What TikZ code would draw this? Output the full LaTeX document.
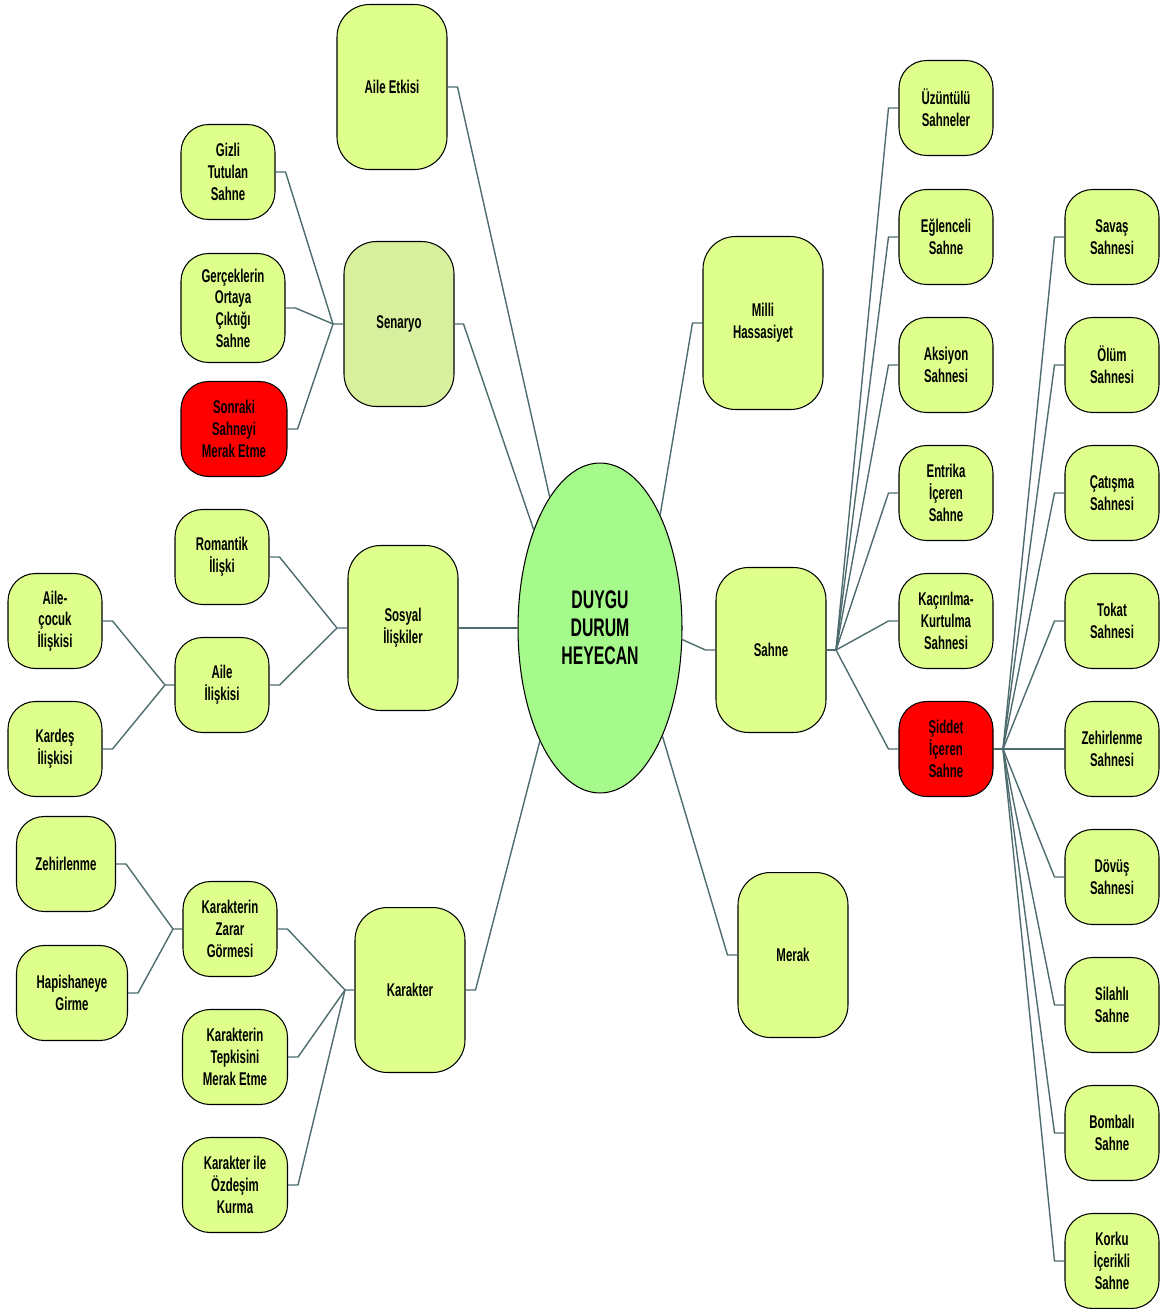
\documentclass[tikz,border=0pt]{standalone}
\usepackage{fontspec}
\setmainfont[FakeStretch=0.62]{Liberation Sans}
\usetikzlibrary{shapes.geometric}
\definecolor{kutu}{RGB}{222,255,140}
\definecolor{senkutu}{RGB}{216,240,158}
\definecolor{merkezrenk}{RGB}{166,250,140}
\definecolor{cizgi}{RGB}{78,108,110}
\begin{document}
\begin{tikzpicture}[x=0.02cm,y=-0.02cm,
    yaprak/.style={draw=black,line width=0.6pt,fill=kutu,rounded corners=0.55cm,
      minimum width=1.88cm,minimum height=1.9cm,align=center,inner sep=1pt,
      font=\bfseries\fontsize{10.5}{12.3}\selectfont},
    dal/.style={yaprak,rounded corners=0.65cm,minimum width=2.2cm,minimum height=3.3cm},
    kirmizi/.style={fill=red},
    bag/.style={draw=cizgi,line width=0.8pt}]
  \useasboundingbox (0,0) rectangle (1165,1309);
  % merkez
  \node[ellipse,draw=black,line width=0.6pt,fill=merkezrenk,minimum width=3.28cm,
    minimum height=6.6cm,align=center,font=\bfseries\fontsize{14.5}{16}\selectfont]
    (merkez) at (600,628) {DUYGU\\DURUM\\HEYECAN};
  % sol taraf
  \node[dal] (etki) at (392,87) {Aile Etkisi};
  \node[dal,fill=senkutu] (sen) at (399,324) {Senaryo};
  \node[yaprak] (gizli) at (228,172) {Gizli\\Tutulan\\Sahne};
  \node[yaprak,minimum width=2.08cm,minimum height=2.18cm] (gercek) at (233,308) {Gerçeklerin\\Ortaya\\Çıktığı\\Sahne};
  \node[yaprak,kirmizi,minimum width=2.12cm] (sonraki) at (234,429) {Sonraki\\Sahneyi\\Merak Etme};
  \node[dal] (sosyal) at (403,628) {Sosyal\\İlişkiler};
  \node[yaprak] (romantik) at (222,557) {Romantik\\İlişki};
  \node[yaprak] (aile) at (222,685) {Aile\\İlişkisi};
  \node[yaprak] (cocuk) at (55,621) {Aile-\\çocuk\\İlişkisi};
  \node[yaprak] (kardes) at (55,749) {Kardeş\\İlişkisi};
  \node[dal] (karakter) at (410,990) {Karakter};
  \node[yaprak] (zarar) at (230,929) {Karakterin\\Zarar\\Görmesi};
  \node[yaprak,minimum width=2.1cm] (tepki) at (235,1057) {Karakterin\\Tepkisini\\Merak Etme};
  \node[yaprak,minimum width=2.1cm] (ozdes) at (235,1185) {Karakter ile\\Özdeşim\\Kurma};
  \node[yaprak,minimum width=1.98cm] (zehir) at (66,864) {Zehirlenme};
  \node[yaprak,minimum width=2.22cm] (hapis) at (72,993) {Hapishaneye\\Girme};
  % sag taraf
  \node[dal,minimum width=2.4cm,minimum height=3.46cm] (milli) at (763,323) {Milli\\Hassasiyet};
  \node[dal] (sahne) at (771,650) {Sahne};
  \node[dal] (merak) at (793,955) {Merak};
  \node[yaprak] (uzuntu) at (946,108) {Üzüntülü\\Sahneler};
  \node[yaprak] (eglence) at (946,237) {Eğlenceli\\Sahne};
  \node[yaprak] (aksiyon) at (946,365) {Aksiyon\\Sahnesi};
  \node[yaprak] (entrika) at (946,493) {Entrika\\İçeren\\Sahne};
  \node[yaprak] (kacirma) at (946,621) {Kaçırılma-\\Kurtulma\\Sahnesi};
  \node[yaprak,kirmizi] (siddet) at (946,749) {Şiddet\\İçeren\\Sahne};
  \node[yaprak] (savas) at (1112,237) {Savaş\\Sahnesi};
  \node[yaprak] (olum) at (1112,365) {Ölüm\\Sahnesi};
  \node[yaprak] (catisma) at (1112,493) {Çatışma\\Sahnesi};
  \node[yaprak] (tokat) at (1112,621) {Tokat\\Sahnesi};
  \node[yaprak] (zehirs) at (1112,749) {Zehirlenme\\Sahnesi};
  \node[yaprak] (dovus) at (1112,877) {Dövüş\\Sahnesi};
  \node[yaprak] (silah) at (1112,1005) {Silahlı\\Sahne};
  \node[yaprak] (bomba) at (1112,1133) {Bombalı\\Sahne};
  \node[yaprak] (korku) at (1112,1261) {Korku\\İçerikli\\Sahne};
  % dugum noktalari
  \coordinate (jsen) at (333,324);
  \coordinate (jsosyal) at (337,628);
  \coordinate (jaile) at (165,685);
  \coordinate (jkarakter) at (345,990);
  \coordinate (jzarar) at (173,929);
  \coordinate (jsahne) at (836,650);
  \coordinate (jsiddet) at (1003,749);
  % merkeze baglar
  \draw[bag] (etki.east) -- ++(10,0) -- (merkez.111);
  \draw[bag] (sen.east) -- ++(9,0) -- (merkez.124);
  \draw[bag] (sosyal.east) -- (merkez.180);
  \draw[bag] (karakter.east) -- ++(10,0) -- (merkez.242);
  \draw[bag] (milli.west) -- ++(-10,0) -- (merkez.62);
  \draw[bag] (sahne.west) -- ++(-10,0) -- (merkez.352);
  \draw[bag] (merak.west) -- ++(-10,0) -- (merkez.300);
  % senaryo
  \draw[bag] (gizli.east) -- ++(10,0) -- (jsen) -- (sen.west);
  \draw[bag] (gercek.east) -- ++(10,0) -- (jsen);
  \draw[bag] (sonraki.east) -- ++(10,0) -- (jsen);
  % sosyal iliskiler
  \draw[bag] (romantik.east) -- ++(10,0) -- (jsosyal) -- (sosyal.west);
  \draw[bag] (aile.east) -- ++(10,0) -- (jsosyal);
  \draw[bag] (cocuk.east) -- ++(10,0) -- (jaile) -- (aile.west);
  \draw[bag] (kardes.east) -- ++(10,0) -- (jaile);
  % karakter
  \draw[bag] (zarar.east) -- ++(10,0) -- (jkarakter) -- (karakter.west);
  \draw[bag] (tepki.east) -- ++(10,0) -- (jkarakter);
  \draw[bag] (ozdes.east) -- ++(10,0) -- (jkarakter);
  \draw[bag] (zehir.east) -- ++(10,0) -- (jzarar) -- (zarar.west);
  \draw[bag] (hapis.east) -- ++(10,0) -- (jzarar);
  % sahne
  \draw[bag] (sahne.east) -- (jsahne);
  \draw[bag] (jsahne) -- ([xshift=-0.2cm]uzuntu.west) -- (uzuntu.west);
  \draw[bag] (jsahne) -- ([xshift=-0.2cm]eglence.west) -- (eglence.west);
  \draw[bag] (jsahne) -- ([xshift=-0.2cm]aksiyon.west) -- (aksiyon.west);
  \draw[bag] (jsahne) -- ([xshift=-0.2cm]entrika.west) -- (entrika.west);
  \draw[bag] (jsahne) -- ([xshift=-0.2cm]kacirma.west) -- (kacirma.west);
  \draw[bag] (jsahne) -- ([xshift=-0.2cm]siddet.west) -- (siddet.west);
  % siddet iceren sahne
  \draw[bag] (siddet.east) -- (jsiddet);
  \draw[bag] (jsiddet) -- ([xshift=-0.2cm]savas.west) -- (savas.west);
  \draw[bag] (jsiddet) -- ([xshift=-0.2cm]olum.west) -- (olum.west);
  \draw[bag] (jsiddet) -- ([xshift=-0.2cm]catisma.west) -- (catisma.west);
  \draw[bag] (jsiddet) -- ([xshift=-0.2cm]tokat.west) -- (tokat.west);
  \draw[bag] (jsiddet) -- ([xshift=-0.2cm]zehirs.west) -- (zehirs.west);
  \draw[bag] (jsiddet) -- ([xshift=-0.2cm]dovus.west) -- (dovus.west);
  \draw[bag] (jsiddet) -- ([xshift=-0.2cm]silah.west) -- (silah.west);
  \draw[bag] (jsiddet) -- ([xshift=-0.2cm]bomba.west) -- (bomba.west);
  \draw[bag] (jsiddet) -- ([xshift=-0.2cm]korku.west) -- (korku.west);
\end{tikzpicture}
\end{document}
